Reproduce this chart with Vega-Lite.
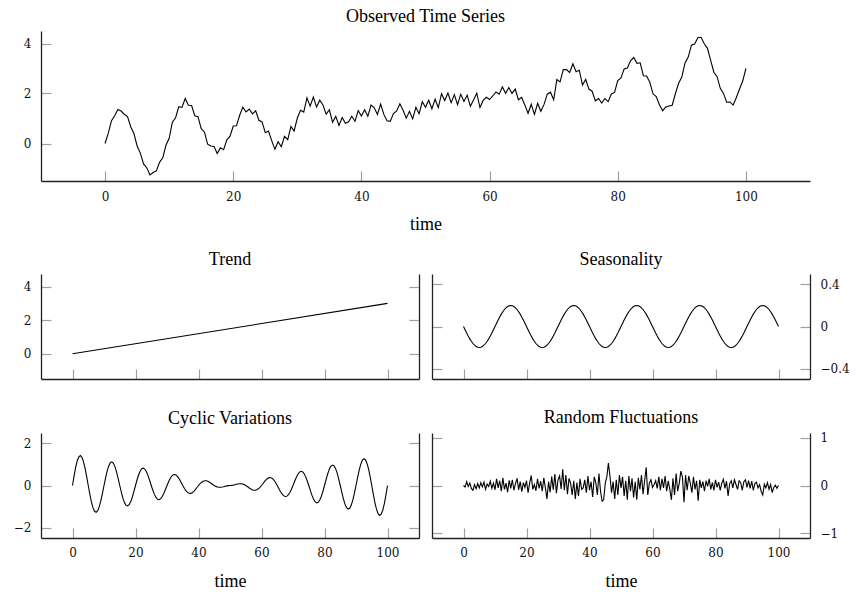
{
  "$schema": "https://vega.github.io/schema/vega-lite/v6.json",
  "background": "white",
  "padding": {"left": 13, "top": 8, "right": 0, "bottom": 0},
  "config": {
    "view": {"stroke": null},
    "font": "Liberation Serif",
    "title": {"font": "Liberation Serif", "fontSize": 18, "fontWeight": "normal", "color": "#000", "baseline": "alphabetic", "offset": 5, "frame": "group", "anchor": "middle"},
    "axis": {
      "grid": false,
      "domainColor": "#222", "domainWidth": 1.3,
      "tickColor": "#a0a0a0", "tickWidth": 1.2, "tickSize": -10,
      "labelFont": "DejaVu Serif", "labelFontSize": 12, "labelColor": "#111", "labelPadding": 20,
      "titleFont": "Liberation Serif", "titleFontSize": 18, "titleFontWeight": "normal", "titleColor": "#000"
    },
    "line": {"color": "#000", "strokeWidth": 1.1}
  },
  "datasets": {
    "trend": [{"t": 0, "trend": 0}, {"t": 100, "trend": 3}],
    "main": [
      {"t":0,"observed":0,"seasonality":0,"cyclic":0,"random":0},
      {"t":0.5,"observed":0.413,"seasonality":-0.031,"cyclic":0.459,"random":-0.03},
      {"t":1,"observed":0.912,"seasonality":-0.062,"cyclic":0.864,"random":0.08},
      {"t":1.5,"observed":1.111,"seasonality":-0.091,"cyclic":1.177,"random":-0.02},
      {"t":2,"observed":1.361,"seasonality":-0.118,"cyclic":1.369,"random":0.05},
      {"t":2.5,"observed":1.299,"seasonality":-0.141,"cyclic":1.425,"random":-0.06},
      {"t":3,"observed":1.169,"seasonality":-0.162,"cyclic":1.341,"random":-0.1},
      {"t":3.5,"observed":1.076,"seasonality":-0.178,"cyclic":1.129,"random":0.02},
      {"t":4,"observed":0.671,"seasonality":-0.19,"cyclic":0.811,"random":-0.07},
      {"t":4.5,"observed":0.399,"seasonality":-0.198,"cyclic":0.422,"random":0.04},
      {"t":5,"observed":-0.1,"seasonality":-0.2,"cyclic":0,"random":-0.05},
      {"t":5.5,"observed":-0.386,"seasonality":-0.198,"cyclic":-0.413,"random":0.06},
      {"t":6,"observed":-0.816,"seasonality":-0.19,"cyclic":-0.776,"random":-0.03},
      {"t":6.5,"observed":-0.969,"seasonality":-0.178,"cyclic":-1.056,"random":0.07},
      {"t":7,"observed":-1.259,"seasonality":-0.162,"cyclic":-1.227,"random":-0.08},
      {"t":7.5,"observed":-1.161,"seasonality":-0.141,"cyclic":-1.275,"random":0.03},
      {"t":8,"observed":-1.096,"seasonality":-0.118,"cyclic":-1.198,"random":-0.02},
      {"t":8.5,"observed":-0.753,"seasonality":-0.091,"cyclic":-1.007,"random":0.09},
      {"t":9,"observed":-0.575,"seasonality":-0.062,"cyclic":-0.723,"random":-0.06},
      {"t":9.5,"observed":-0.071,"seasonality":-0.031,"cyclic":-0.375,"random":0.05},
      {"t":10,"observed":0.21,"seasonality":0,"cyclic":0,"random":-0.09},
      {"t":10.5,"observed":0.852,"seasonality":0.031,"cyclic":0.366,"random":0.14},
      {"t":11,"observed":1.03,"seasonality":0.062,"cyclic":0.688,"random":-0.05},
      {"t":11.5,"observed":1.47,"seasonality":0.091,"cyclic":0.934,"random":0.1},
      {"t":12,"observed":1.442,"seasonality":0.118,"cyclic":1.084,"random":-0.12},
      {"t":12.5,"observed":1.801,"seasonality":0.141,"cyclic":1.125,"random":0.16},
      {"t":13,"observed":1.528,"seasonality":0.162,"cyclic":1.056,"random":-0.08},
      {"t":13.5,"observed":1.519,"seasonality":0.178,"cyclic":0.886,"random":0.05},
      {"t":14,"observed":1.105,"seasonality":0.19,"cyclic":0.635,"random":-0.14},
      {"t":14.5,"observed":1.072,"seasonality":0.198,"cyclic":0.329,"random":0.11},
      {"t":15,"observed":0.59,"seasonality":0.2,"cyclic":0,"random":-0.06},
      {"t":15.5,"observed":0.463,"seasonality":0.198,"cyclic":-0.32,"random":0.12},
      {"t":16,"observed":-0.03,"seasonality":0.19,"cyclic":-0.6,"random":-0.1},
      {"t":16.5,"observed":-0.1,"seasonality":0.178,"cyclic":-0.813,"random":0.04},
      {"t":17,"observed":-0.119,"seasonality":0.162,"cyclic":-0.941,"random":0.15},
      {"t":17.5,"observed":-0.399,"seasonality":0.141,"cyclic":-0.975,"random":-0.09},
      {"t":18,"observed":-0.175,"seasonality":0.118,"cyclic":-0.913,"random":0.08},
      {"t":18.5,"observed":-0.249,"seasonality":0.091,"cyclic":-0.765,"random":-0.13},
      {"t":19,"observed":0.145,"seasonality":0.062,"cyclic":-0.547,"random":0.06},
      {"t":19.5,"observed":0.293,"seasonality":0.031,"cyclic":-0.283,"random":-0.04},
      {"t":20,"observed":0.7,"seasonality":0,"cyclic":0,"random":0.1},
      {"t":20.5,"observed":0.707,"seasonality":-0.031,"cyclic":0.273,"random":-0.15},
      {"t":21,"observed":1.13,"seasonality":-0.062,"cyclic":0.512,"random":0.05},
      {"t":21.5,"observed":1.456,"seasonality":-0.091,"cyclic":0.692,"random":0.21},
      {"t":22,"observed":1.261,"seasonality":-0.118,"cyclic":0.799,"random":-0.08},
      {"t":22.5,"observed":1.379,"seasonality":-0.141,"cyclic":0.825,"random":0.02},
      {"t":23,"observed":1.188,"seasonality":-0.162,"cyclic":0.77,"random":-0.11},
      {"t":23.5,"observed":1.31,"seasonality":-0.178,"cyclic":0.643,"random":0.14},
      {"t":24,"observed":0.929,"seasonality":-0.19,"cyclic":0.459,"random":-0.06},
      {"t":24.5,"observed":0.863,"seasonality":-0.198,"cyclic":0.236,"random":0.09},
      {"t":25,"observed":0.43,"seasonality":-0.2,"cyclic":0,"random":-0.12},
      {"t":25.5,"observed":0.5,"seasonality":-0.198,"cyclic":-0.227,"random":0.16},
      {"t":26,"observed":0.117,"seasonality":-0.19,"cyclic":-0.423,"random":-0.05},
      {"t":26.5,"observed":-0.233,"seasonality":-0.178,"cyclic":-0.57,"random":-0.28},
      {"t":27,"observed":0.072,"seasonality":-0.162,"cyclic":-0.656,"random":0.08},
      {"t":27.5,"observed":-0.131,"seasonality":-0.141,"cyclic":-0.675,"random":-0.14},
      {"t":28,"observed":0.284,"seasonality":-0.118,"cyclic":-0.628,"random":0.19},
      {"t":28.5,"observed":0.152,"seasonality":-0.091,"cyclic":-0.522,"random":-0.09},
      {"t":29,"observed":0.678,"seasonality":-0.062,"cyclic":-0.37,"random":0.24},
      {"t":29.5,"observed":0.504,"seasonality":-0.031,"cyclic":-0.19,"random":-0.16},
      {"t":30,"observed":1.02,"seasonality":0,"cyclic":0,"random":0.12},
      {"t":30.5,"observed":1.327,"seasonality":0.031,"cyclic":0.181,"random":0.2},
      {"t":31,"observed":1.257,"seasonality":0.062,"cyclic":0.335,"random":-0.07},
      {"t":31.5,"observed":1.825,"seasonality":0.091,"cyclic":0.449,"random":0.34},
      {"t":32,"observed":1.492,"seasonality":0.118,"cyclic":0.514,"random":-0.1},
      {"t":32.5,"observed":1.861,"seasonality":0.141,"cyclic":0.525,"random":0.22},
      {"t":33,"observed":1.457,"seasonality":0.162,"cyclic":0.485,"random":-0.18},
      {"t":33.5,"observed":1.733,"seasonality":0.178,"cyclic":0.4,"random":0.15},
      {"t":34,"observed":1.542,"seasonality":0.19,"cyclic":0.282,"random":0.05},
      {"t":34.5,"observed":1.177,"seasonality":0.198,"cyclic":0.144,"random":-0.2},
      {"t":35,"observed":1.35,"seasonality":0.2,"cyclic":0,"random":0.1},
      {"t":35.5,"observed":0.849,"seasonality":0.198,"cyclic":-0.134,"random":-0.28},
      {"t":36,"observed":1.083,"seasonality":0.19,"cyclic":-0.247,"random":0.06},
      {"t":36.5,"observed":0.725,"seasonality":0.178,"cyclic":-0.328,"random":-0.22},
      {"t":37,"observed":1.041,"seasonality":0.162,"cyclic":-0.371,"random":0.14},
      {"t":37.5,"observed":0.811,"seasonality":0.141,"cyclic":-0.375,"random":-0.08},
      {"t":38,"observed":0.866,"seasonality":0.118,"cyclic":-0.342,"random":-0.05},
      {"t":38.5,"observed":1.087,"seasonality":0.091,"cyclic":-0.279,"random":0.12},
      {"t":39,"observed":0.888,"seasonality":0.062,"cyclic":-0.194,"random":-0.15},
      {"t":39.5,"observed":1.319,"seasonality":0.031,"cyclic":-0.097,"random":0.2},
      {"t":40,"observed":1.1,"seasonality":0,"cyclic":0,"random":-0.1},
      {"t":40.5,"observed":1.352,"seasonality":-0.031,"cyclic":0.088,"random":0.08},
      {"t":41,"observed":1.087,"seasonality":-0.062,"cyclic":0.159,"random":-0.24},
      {"t":41.5,"observed":1.54,"seasonality":-0.091,"cyclic":0.206,"random":0.18},
      {"t":42,"observed":1.43,"seasonality":-0.118,"cyclic":0.228,"random":0.06},
      {"t":42.5,"observed":1.159,"seasonality":-0.141,"cyclic":0.225,"random":-0.2},
      {"t":43,"observed":1.578,"seasonality":-0.162,"cyclic":0.2,"random":0.25},
      {"t":43.5,"observed":1.165,"seasonality":-0.178,"cyclic":0.158,"random":-0.12},
      {"t":44,"observed":0.906,"seasonality":-0.19,"cyclic":0.106,"random":-0.33},
      {"t":44.5,"observed":0.888,"seasonality":-0.198,"cyclic":0.051,"random":-0.3},
      {"t":45,"observed":1.2,"seasonality":-0.2,"cyclic":0,"random":0.05},
      {"t":45.5,"observed":1.305,"seasonality":-0.198,"cyclic":-0.042,"random":0.18},
      {"t":46,"observed":1.589,"seasonality":-0.19,"cyclic":-0.071,"random":0.47},
      {"t":46.5,"observed":1.332,"seasonality":-0.178,"cyclic":-0.085,"random":0.2},
      {"t":47,"observed":1.012,"seasonality":-0.162,"cyclic":-0.086,"random":-0.15},
      {"t":47.5,"observed":1.289,"seasonality":-0.141,"cyclic":-0.075,"random":0.08},
      {"t":48,"observed":0.985,"seasonality":-0.118,"cyclic":-0.057,"random":-0.28},
      {"t":48.5,"observed":1.448,"seasonality":-0.091,"cyclic":-0.036,"random":0.12},
      {"t":49,"observed":1.19,"seasonality":-0.062,"cyclic":-0.018,"random":-0.2},
      {"t":49.5,"observed":1.669,"seasonality":-0.031,"cyclic":-0.005,"random":0.22},
      {"t":50,"observed":1.45,"seasonality":0,"cyclic":0,"random":-0.05},
      {"t":50.5,"observed":1.731,"seasonality":0.031,"cyclic":0.005,"random":0.18},
      {"t":51,"observed":1.39,"seasonality":0.062,"cyclic":0.018,"random":-0.22},
      {"t":51.5,"observed":1.772,"seasonality":0.091,"cyclic":0.036,"random":0.1},
      {"t":52,"observed":1.435,"seasonality":0.118,"cyclic":0.057,"random":-0.3},
      {"t":52.5,"observed":1.991,"seasonality":0.141,"cyclic":0.075,"random":0.2},
      {"t":53,"observed":1.718,"seasonality":0.162,"cyclic":0.086,"random":-0.12},
      {"t":53.5,"observed":2.018,"seasonality":0.178,"cyclic":0.085,"random":0.15},
      {"t":54,"observed":1.631,"seasonality":0.19,"cyclic":0.071,"random":-0.25},
      {"t":54.5,"observed":1.955,"seasonality":0.198,"cyclic":0.042,"random":0.08},
      {"t":55,"observed":1.55,"seasonality":0.2,"cyclic":0,"random":-0.3},
      {"t":55.5,"observed":1.972,"seasonality":0.198,"cyclic":-0.051,"random":0.16},
      {"t":56,"observed":1.684,"seasonality":0.19,"cyclic":-0.106,"random":-0.08},
      {"t":56.5,"observed":1.935,"seasonality":0.178,"cyclic":-0.158,"random":0.22},
      {"t":57,"observed":1.492,"seasonality":0.162,"cyclic":-0.2,"random":-0.18},
      {"t":57.5,"observed":1.741,"seasonality":0.141,"cyclic":-0.225,"random":0.1},
      {"t":58,"observed":2.01,"seasonality":0.118,"cyclic":-0.228,"random":0.38},
      {"t":58.5,"observed":1.44,"seasonality":0.091,"cyclic":-0.206,"random":-0.2},
      {"t":59,"observed":1.723,"seasonality":0.062,"cyclic":-0.159,"random":0.05},
      {"t":59.5,"observed":1.848,"seasonality":0.031,"cyclic":-0.088,"random":0.12},
      {"t":60,"observed":1.76,"seasonality":0,"cyclic":0,"random":-0.04},
      {"t":60.5,"observed":1.901,"seasonality":-0.031,"cyclic":0.097,"random":0.02},
      {"t":61,"observed":2.062,"seasonality":-0.062,"cyclic":0.194,"random":0.1},
      {"t":61.5,"observed":1.973,"seasonality":-0.091,"cyclic":0.279,"random":-0.06},
      {"t":62,"observed":2.264,"seasonality":-0.118,"cyclic":0.342,"random":0.18},
      {"t":62.5,"observed":2.009,"seasonality":-0.141,"cyclic":0.375,"random":-0.1},
      {"t":63,"observed":2.239,"seasonality":-0.162,"cyclic":0.371,"random":0.14},
      {"t":63.5,"observed":2.005,"seasonality":-0.178,"cyclic":0.328,"random":-0.05},
      {"t":64,"observed":2.177,"seasonality":-0.19,"cyclic":0.247,"random":0.2},
      {"t":64.5,"observed":1.751,"seasonality":-0.198,"cyclic":0.134,"random":-0.12},
      {"t":65,"observed":1.85,"seasonality":-0.2,"cyclic":0,"random":0.1},
      {"t":65.5,"observed":1.543,"seasonality":-0.198,"cyclic":-0.144,"random":-0.08},
      {"t":66,"observed":1.208,"seasonality":-0.19,"cyclic":-0.282,"random":-0.3},
      {"t":66.5,"observed":1.567,"seasonality":-0.178,"cyclic":-0.4,"random":0.15},
      {"t":67,"observed":1.163,"seasonality":-0.162,"cyclic":-0.485,"random":-0.2},
      {"t":67.5,"observed":1.609,"seasonality":-0.141,"cyclic":-0.525,"random":0.25},
      {"t":68,"observed":1.288,"seasonality":-0.118,"cyclic":-0.514,"random":-0.12},
      {"t":68.5,"observed":1.565,"seasonality":-0.091,"cyclic":-0.449,"random":0.05},
      {"t":69,"observed":1.973,"seasonality":-0.062,"cyclic":-0.335,"random":0.3},
      {"t":69.5,"observed":2.053,"seasonality":-0.031,"cyclic":-0.181,"random":0.18},
      {"t":70,"observed":1.75,"seasonality":0,"cyclic":0,"random":-0.35},
      {"t":70.5,"observed":2.556,"seasonality":0.031,"cyclic":0.19,"random":0.22},
      {"t":71,"observed":2.462,"seasonality":0.062,"cyclic":0.37,"random":-0.1},
      {"t":71.5,"observed":2.958,"seasonality":0.091,"cyclic":0.522,"random":0.2},
      {"t":72,"observed":2.956,"seasonality":0.118,"cyclic":0.628,"random":0.05},
      {"t":72.5,"observed":2.841,"seasonality":0.141,"cyclic":0.675,"random":-0.15},
      {"t":73,"observed":3.188,"seasonality":0.162,"cyclic":0.656,"random":0.18},
      {"t":73.5,"observed":2.873,"seasonality":0.178,"cyclic":0.57,"random":-0.08},
      {"t":74,"observed":2.933,"seasonality":0.19,"cyclic":0.423,"random":0.1},
      {"t":74.5,"observed":2.34,"seasonality":0.198,"cyclic":0.227,"random":-0.32},
      {"t":75,"observed":2.57,"seasonality":0.2,"cyclic":0,"random":0.12},
      {"t":75.5,"observed":2.177,"seasonality":0.198,"cyclic":-0.236,"random":-0.05},
      {"t":76,"observed":2.091,"seasonality":0.19,"cyclic":-0.459,"random":0.08},
      {"t":76.5,"observed":1.71,"seasonality":0.178,"cyclic":-0.643,"random":-0.12},
      {"t":77,"observed":1.802,"seasonality":0.162,"cyclic":-0.77,"random":0.1},
      {"t":77.5,"observed":1.621,"seasonality":0.141,"cyclic":-0.825,"random":-0.02},
      {"t":78,"observed":1.799,"seasonality":0.118,"cyclic":-0.799,"random":0.14},
      {"t":78.5,"observed":1.674,"seasonality":0.091,"cyclic":-0.692,"random":-0.08},
      {"t":79,"observed":1.98,"seasonality":0.062,"cyclic":-0.512,"random":0.06},
      {"t":79.5,"observed":2.043,"seasonality":0.031,"cyclic":-0.273,"random":-0.1},
      {"t":80,"observed":2.52,"seasonality":0,"cyclic":0,"random":0.12},
      {"t":80.5,"observed":2.627,"seasonality":-0.031,"cyclic":0.283,"random":-0.04},
      {"t":81,"observed":2.985,"seasonality":-0.062,"cyclic":0.547,"random":0.07},
      {"t":81.5,"observed":3.019,"seasonality":-0.091,"cyclic":0.765,"random":-0.1},
      {"t":82,"observed":3.305,"seasonality":-0.118,"cyclic":0.913,"random":0.05},
      {"t":82.5,"observed":3.439,"seasonality":-0.141,"cyclic":0.975,"random":0.13},
      {"t":83,"observed":3.209,"seasonality":-0.162,"cyclic":0.941,"random":-0.06},
      {"t":83.5,"observed":3.23,"seasonality":-0.178,"cyclic":0.813,"random":0.09},
      {"t":84,"observed":2.71,"seasonality":-0.19,"cyclic":0.6,"random":-0.22},
      {"t":84.5,"observed":2.697,"seasonality":-0.198,"cyclic":0.32,"random":0.04},
      {"t":85,"observed":2.45,"seasonality":-0.2,"cyclic":0,"random":0.1},
      {"t":85.5,"observed":1.988,"seasonality":-0.198,"cyclic":-0.329,"random":-0.05},
      {"t":86,"observed":1.875,"seasonality":-0.19,"cyclic":-0.635,"random":0.12},
      {"t":86.5,"observed":1.551,"seasonality":-0.178,"cyclic":-0.886,"random":0.02},
      {"t":87,"observed":1.312,"seasonality":-0.162,"cyclic":-1.056,"random":-0.08},
      {"t":87.5,"observed":1.459,"seasonality":-0.141,"cyclic":-1.125,"random":0.1},
      {"t":88,"observed":1.498,"seasonality":-0.118,"cyclic":-1.084,"random":0.06},
      {"t":88.5,"observed":1.53,"seasonality":-0.091,"cyclic":-0.934,"random":-0.1},
      {"t":89,"observed":2.0,"seasonality":-0.062,"cyclic":-0.688,"random":0.08},
      {"t":89.5,"observed":2.408,"seasonality":-0.031,"cyclic":-0.366,"random":0.12},
      {"t":90,"observed":2.66,"seasonality":0,"cyclic":0,"random":-0.04},
      {"t":90.5,"observed":3.221,"seasonality":0.031,"cyclic":0.375,"random":0.1},
      {"t":91,"observed":3.455,"seasonality":0.062,"cyclic":0.723,"random":-0.06},
      {"t":91.5,"observed":3.933,"seasonality":0.091,"cyclic":1.007,"random":0.09},
      {"t":92,"observed":3.976,"seasonality":0.118,"cyclic":1.198,"random":-0.1},
      {"t":92.5,"observed":4.231,"seasonality":0.141,"cyclic":1.275,"random":0.04},
      {"t":93,"observed":4.249,"seasonality":0.162,"cyclic":1.227,"random":0.07},
      {"t":93.5,"observed":3.989,"seasonality":0.178,"cyclic":1.056,"random":-0.05},
      {"t":94,"observed":3.806,"seasonality":0.19,"cyclic":0.776,"random":0.02},
      {"t":94.5,"observed":3.326,"seasonality":0.198,"cyclic":0.413,"random":-0.12},
      {"t":95,"observed":2.85,"seasonality":0.2,"cyclic":0,"random":-0.2},
      {"t":95.5,"observed":2.671,"seasonality":0.198,"cyclic":-0.422,"random":0.03},
      {"t":96,"observed":2.209,"seasonality":0.19,"cyclic":-0.811,"random":-0.05},
      {"t":96.5,"observed":2.004,"seasonality":0.178,"cyclic":-1.129,"random":0.06},
      {"t":97,"observed":1.651,"seasonality":0.162,"cyclic":-1.341,"random":-0.08},
      {"t":97.5,"observed":1.661,"seasonality":0.141,"cyclic":-1.425,"random":0.02},
      {"t":98,"observed":1.539,"seasonality":0.118,"cyclic":-1.369,"random":-0.15},
      {"t":98.5,"observed":1.829,"seasonality":0.091,"cyclic":-1.177,"random":-0.04},
      {"t":99,"observed":2.178,"seasonality":0.062,"cyclic":-0.864,"random":0.01},
      {"t":99.5,"observed":2.497,"seasonality":0.031,"cyclic":-0.459,"random":-0.06},
      {"t":100,"observed":3,"seasonality":0,"cyclic":0,"random":0}
    ]
  },
  "data": {"name": "main"},
  "spacing": 18,
  "vconcat": [
    {
      "title": "Observed Time Series",
      "width": 769,
      "height": 150,
      "mark": {"type": "line"},
      "encoding": {
        "x": {"field": "t", "type": "quantitative", "scale": {"domain": [-10, 110], "nice": false, "zero": false}, "axis": {"values": [0, 20, 40, 60, 80, 100], "title": "time", "titlePadding": 13}},
        "y": {"field": "observed", "type": "quantitative", "scale": {"domain": [-1.5, 4.5], "nice": false, "zero": false}, "axis": {"values": [0, 2, 4], "title": null}}
      }
    },
    {
      "spacing": 13,
      "bounds": "flush",
      "hconcat": [
        {
          "title": "Trend",
          "data": {"name": "trend"},
          "width": 378,
          "height": 105,
          "resolve": {"axis": {"y": "independent"}},
          "layer": [
            {
              "mark": {"type": "line"},
              "encoding": {
                "x": {"field": "t", "type": "quantitative", "scale": {"domain": [-10, 110], "nice": false, "zero": false}, "axis": {"values": [0, 20, 40, 60, 80, 100], "labels": false, "title": null, "minExtent": 11}},
                "y": {"field": "trend", "type": "quantitative", "scale": {"domain": [-1.5, 4.75], "nice": false, "zero": false}, "axis": {"orient": "left", "values": [0, 2, 4], "title": null}}
              }
            },
            {
              "mark": {"type": "line", "strokeOpacity": 0},
              "encoding": {
                "x": {"field": "t", "type": "quantitative", "axis": {"values": [0, 20, 40, 60, 80, 100], "labels": false, "title": null, "minExtent": 11}},
                "y": {"field": "trend", "type": "quantitative", "axis": {"orient": "right", "values": [0, 2, 4], "labels": false, "title": null}}
              }
            }
          ]
        },
        {
          "title": "Seasonality",
          "width": 378,
          "height": 105,
          "resolve": {"axis": {"y": "independent"}},
          "layer": [
            {
              "mark": {"type": "line"},
              "encoding": {
                "x": {"field": "t", "type": "quantitative", "scale": {"domain": [-10, 110], "nice": false, "zero": false}, "axis": {"values": [0, 20, 40, 60, 80, 100], "labels": false, "title": null, "minExtent": 11}},
                "y": {"field": "seasonality", "type": "quantitative", "scale": {"domain": [-0.5, 0.5], "nice": false, "zero": false}, "axis": {"orient": "left", "values": [-0.4, 0, 0.4], "labels": false, "title": null}}
              }
            },
            {
              "mark": {"type": "line", "strokeOpacity": 0},
              "encoding": {
                "x": {"field": "t", "type": "quantitative", "axis": {"values": [0, 20, 40, 60, 80, 100], "labels": false, "title": null, "minExtent": 11}},
                "y": {"field": "seasonality", "type": "quantitative", "axis": {"orient": "right", "values": [-0.4, 0, 0.4], "format": "~g", "title": null}}
              }
            }
          ]
        }
      ]
    },
    {
      "spacing": 13,
      "bounds": "flush",
      "hconcat": [
        {
          "title": "Cyclic Variations",
          "width": 378,
          "height": 105,
          "resolve": {"axis": {"y": "independent"}},
          "layer": [
            {
              "mark": {"type": "line"},
              "encoding": {
                "x": {"field": "t", "type": "quantitative", "scale": {"domain": [-10, 110], "nice": false, "zero": false}, "axis": {"values": [0, 20, 40, 60, 80, 100], "title": "time", "labelPadding": 19, "titlePadding": 14}},
                "y": {"field": "cyclic", "type": "quantitative", "scale": {"domain": [-2.5, 2.5], "nice": false, "zero": false}, "axis": {"orient": "left", "values": [-2, 0, 2], "title": null}}
              }
            },
            {
              "mark": {"type": "line", "strokeOpacity": 0},
              "encoding": {
                "x": {"field": "t", "type": "quantitative", "axis": {"values": [0, 20, 40, 60, 80, 100], "title": "time", "labelPadding": 19, "titlePadding": 14}},
                "y": {"field": "cyclic", "type": "quantitative", "axis": {"orient": "right", "values": [-2, 0, 2], "labels": false, "title": null}}
              }
            }
          ]
        },
        {
          "title": "Random Fluctuations",
          "width": 378,
          "height": 105,
          "resolve": {"axis": {"y": "independent"}},
          "layer": [
            {
              "mark": {"type": "line"},
              "encoding": {
                "x": {"field": "t", "type": "quantitative", "scale": {"domain": [-10, 110], "nice": false, "zero": false}, "axis": {"values": [0, 20, 40, 60, 80, 100], "title": "time", "labelPadding": 19, "titlePadding": 14}},
                "y": {"field": "random", "type": "quantitative", "scale": {"domain": [-1.1, 1.1], "nice": false, "zero": false}, "axis": {"orient": "left", "values": [-1, 0, 1], "labels": false, "title": null}}
              }
            },
            {
              "mark": {"type": "line", "strokeOpacity": 0},
              "encoding": {
                "x": {"field": "t", "type": "quantitative", "axis": {"values": [0, 20, 40, 60, 80, 100], "title": "time", "labelPadding": 19, "titlePadding": 14}},
                "y": {"field": "random", "type": "quantitative", "axis": {"orient": "right", "values": [-1, 0, 1], "title": null}}
              }
            }
          ]
        }
      ]
    }
  ]
}
